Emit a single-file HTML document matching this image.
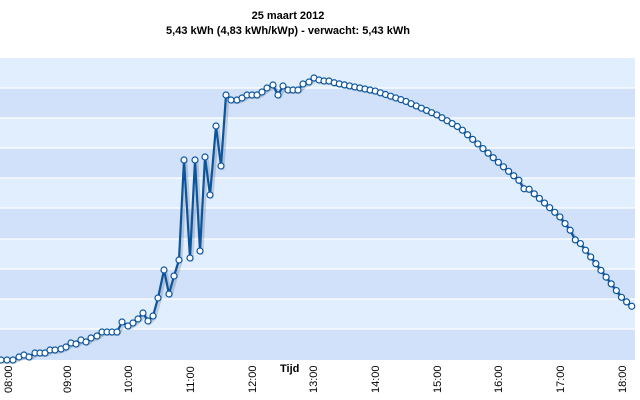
<!DOCTYPE html>
<html><head><meta charset="utf-8"><style>
html,body{margin:0;padding:0;background:#fff;}
svg{display:block;font-family:"Liberation Sans","DejaVu Sans",sans-serif;}
</style></head><body>
<svg id="c" width="640" height="400" viewBox="0 0 640 400" xmlns="http://www.w3.org/2000/svg">
<rect x="0" y="0" width="640" height="400" fill="#fff"/>
<text x="288" y="19" text-anchor="middle" font-size="11" font-weight="bold" fill="#000">25 maart 2012</text>
<text x="288" y="34" text-anchor="middle" font-size="11" font-weight="bold" fill="#000">5,43 kWh (4,83 kWh/kWp) - verwacht: 5,43 kWh</text>
<g id="bands"></g>
<g id="xl" font-size="11" fill="#000"></g>
<text x="280" y="372" font-size="11" font-weight="bold" fill="#000">Tijd</text>
<polyline id="sh" fill="none" stroke="#000" stroke-opacity="0.15" stroke-width="4" stroke-linejoin="round"/>
<polyline id="ln" fill="none" stroke="#0b559f" stroke-width="2.2" stroke-linejoin="round"/>
<g id="pts"></g>
</svg>
<script>
var NS="http://www.w3.org/2000/svg",s=document.getElementById('c');
function el(p,t,a){var e=document.createElementNS(NS,t);for(var k in a)e.setAttribute(k,a[k]);p.appendChild(e);return e;}
var b=document.getElementById('bands');
var ys=[58,88,118,148,178,208,239,269,299,329,360];
for(var i=0;i<10;i++){el(b,'rect',{x:0,y:ys[i],width:635,height:ys[i+1]-ys[i],fill:i%2?'#d0e1f9':'#e0eefe'});}
for(var i=1;i<10;i++){el(b,'line',{x1:0,x2:635,y1:ys[i],y2:ys[i],stroke:'#fff','stroke-width':1.2});}
var xl=document.getElementById('xl');
var hx=[8,67,128,190,252,313,375,437,498,560,622];
for(var h=0;h<11;h++){var hh=(8+h<10?'0':'')+(8+h)+':00';var t=el(xl,'text',{transform:'translate('+(hx[h]+4)+',393) rotate(-90)'});t.textContent=hh;}
var p=[[1,360],[7,360],[13,360],[19,357],[24,355],[29,357],[35,353],[40,353],[45,353],[50,350],[55,350],[61,349],[66,347],[71,343],[76,344],[81,340],[86,342],[91,338],[97,336],[102,332],[107,332],[112,332],[117,332],[122,322],[128,326],[133,323],[138,319],[143,313],[148,321],[153,316],[158,298],[164,270],[169,294],[174,276],[179,260],[184,160],[190,258],[195,160],[200,251],[205,157],[210,195],[216,126],[221,166],[226,95],[231,100],[237,100],[242,98],[247,95],[252,95],[257,95],[262,92],[267,88],[273,85],[278,95],[283,86],[288,90],[293,90],[298,90],[303,84],[309,82],[314,78],[319,80],[324,81],[329,81]];
var k=[[329,81],[335,83],[375,91],[405,101],[437,115],[460,128],[498,162],[530,190],[560,217],[590,256],[622,298],[635,309]];
function iy(x){for(var i=0;i<k.length-1;i++){if(x<=k[i+1][0]){var f=(x-k[i][0])/(k[i+1][0]-k[i][0]);return k[i][1]+f*(k[i+1][1]-k[i][1]);}}return 309;}
for(var x=334.2;x<=635.5;x+=5.13){var y=iy(x);if(Math.abs(x-524)<3)y+=4;if(Math.abs(x-575)<3)y+=3;p.push([Math.min(x,635),y]);}
var str=p.map(function(q){return q[0].toFixed(1)+','+q[1].toFixed(1)}).join(' ');
var str2=p.map(function(q){return (q[0]+1.5).toFixed(1)+','+(q[1]+2).toFixed(1)}).join(' ');
document.getElementById('ln').setAttribute('points',str);
document.getElementById('sh').setAttribute('points',str2);
var g=document.getElementById('pts');
p.forEach(function(q){el(g,'circle',{cx:q[0],cy:q[1],r:3,fill:'#fff',stroke:'#0b559f','stroke-width':1.2});});
</script>
</body></html>
